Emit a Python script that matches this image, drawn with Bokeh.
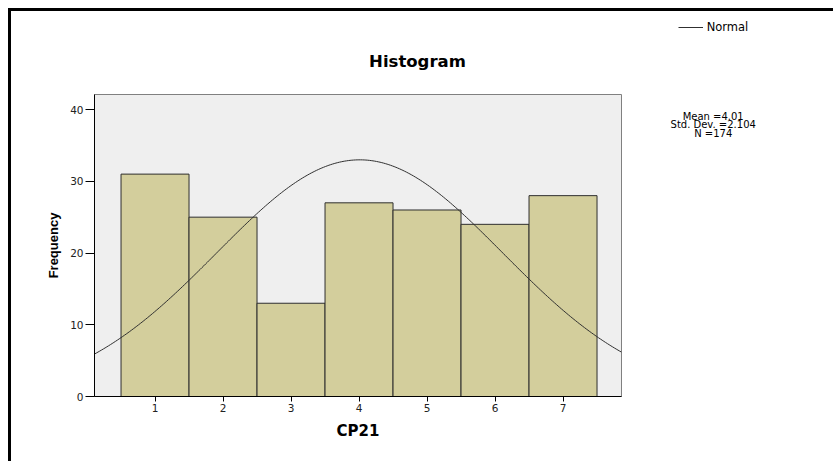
import numpy as np
from bokeh.plotting import figure
from bokeh.models import Range1d, Legend, LegendItem, FixedTicker, ColumnDataSource
from bokeh.layouts import column, row
from bokeh.core.properties import value
from bokeh.embed import file_html
from bokeh.resources import INLINE

# ---- data ----
categories = [1, 2, 3, 4, 5, 6, 7]
frequencies = [31, 25, 13, 27, 26, 24, 28]
x_ticks = [1, 2, 3, 4, 5, 6, 7]
y_ticks = [0, 10, 20, 30, 40]
stat_mean = 4.01
stat_std = 2.104
stat_n = 174
stats_lines = ["Mean =4.01", "Std. Dev. =2.104", "N =174"]
title_text = "Histogram"
x_label = "CP21"
y_label = "Frequency"
legend_label = "Normal"

# ---- layout (page pixels) ----
MARGIN, BORDER = 8, 3
ox = oy = MARGIN + BORDER            # content origin on the page
PAGE_W, PAGE_H = 833, 461
split_x = 640                        # main chart | statistics column
split_y = 93                         # header | main chart
f_left, f_top, f_right, f_bottom = 94, 94, 621, 396

font = "DejaVu Sans"
curve_color = "#303030"


def blank(width, height, x0, x1, y_bottom, y_top):
    f = figure(width=width, height=height, output_backend="svg", toolbar_location=None,
               x_range=Range1d(x0, x1), y_range=Range1d(y_bottom, y_top),
               x_axis_type=None, y_axis_type=None,
               min_border_left=0, min_border_right=0, min_border_top=0, min_border_bottom=0)
    f.outline_line_color = None
    f.grid.visible = False
    f.background_fill_color = "white"
    f.border_fill_color = "white"
    return f


# ---- header: title + legend ----
head = blank(PAGE_W - ox, split_y - oy, ox, PAGE_W, split_y, oy)
head.text(x=[417], y=[61], text=[title_text], text_font=value(font), text_font_style="bold",
          text_font_size="16.5px", text_align="center", text_baseline="alphabetic", text_color="black")
# legend key: a line renderer with no visible points (NaN), styled like the curve
key = head.line(x=[np.nan], y=[np.nan], line_color=curve_color, line_width=1)
leg = Legend(items=[LegendItem(label=legend_label, renderers=[key])],
             location=(677.7 - ox, split_y - (26.7 + 7)))
leg.border_line_alpha = 0
leg.background_fill_alpha = 0
leg.padding = 0
leg.margin = 0
leg.spacing = 0
leg.glyph_width = 25
leg.glyph_height = 14
leg.label_height = 14
leg.label_standoff = 4
leg.label_text_font = font
leg.label_text_font_size = "11.5px"
leg.label_text_color = "black"
head.add_layout(leg)

# ---- main histogram ----
MW, MH = split_x - ox, PAGE_H - split_y
p = figure(width=MW, height=MH, output_backend="svg", toolbar_location=None,
           x_range=Range1d(0.11, 7.86), y_range=Range1d(0, 42.1),
           min_border_left=f_left - ox, min_border_top=f_top - split_y,
           min_border_right=split_x - f_right, min_border_bottom=PAGE_H - f_bottom)
p.background_fill_color = "#EFEFEF"
p.border_fill_color = "white"
p.outline_line_color = "#808080"
p.outline_line_width = 1
p.grid.visible = False

bars = ColumnDataSource(dict(x=categories, top=frequencies))
p.vbar(x="x", top="top", width=1.0, bottom=0, source=bars,
       fill_color="#D3CE9C", line_color="#2E2E2E", line_width=1)

# normal curve from the displayed statistics (bin width 1)
xs = np.linspace(0.11, 7.86, 300)
ys = stat_n * 1.0 * np.exp(-0.5 * ((xs - stat_mean) / stat_std) ** 2) / (stat_std * np.sqrt(2 * np.pi))
p.line(xs, ys, line_color=curve_color, line_width=1)

for ax in (p.xaxis[0], p.yaxis[0]):
    ax.axis_line_color = "black"
    ax.major_tick_line_color = "black"
    ax.minor_tick_line_color = None
    ax.major_tick_in = 0
    ax.major_label_text_font = font
    ax.major_label_text_font_size = "10.5px"
    ax.major_label_text_color = "#222222"
    ax.axis_label_text_color = "black"
    ax.axis_label_text_font_style = "bold"

p.xaxis.ticker = FixedTicker(ticks=x_ticks)
p.yaxis.ticker = FixedTicker(ticks=y_ticks)
p.xaxis.major_tick_out = 5
p.yaxis.major_tick_out = 9
p.xaxis.major_label_standoff = 2
p.yaxis.major_label_standoff = 2
p.xaxis.axis_label = x_label
p.xaxis.axis_label_text_font = font
p.xaxis.axis_label_text_font_size = "15px"
p.xaxis.axis_label_standoff = 7
p.yaxis.axis_label = y_label
p.yaxis.axis_label_text_font = "Liberation Sans"
p.yaxis.axis_label_text_font_size = "13px"
p.yaxis.axis_label_standoff = 6

# ---- statistics column (three separate text renderers, baselines in page pixels) ----
side = blank(PAGE_W - split_x, PAGE_H - split_y, split_x, PAGE_W, PAGE_H, split_y)
for line, base in zip(stats_lines, [120, 130, 140]):
    side.text(x=[712.7], y=[base], text=[line], text_font=value(font),
              text_font_size="10px", text_align="center", text_baseline="alphabetic",
              text_color="black")

layout = column(head, row(p, side, spacing=0), spacing=0)
layout.styles = {"margin-left": f"{MARGIN}px", "margin-top": f"{MARGIN}px",
                 "border-top": f"{BORDER}px solid black", "border-left": f"{BORDER}px solid black"}

open("out.html", "w").write(file_html(layout, INLINE))
